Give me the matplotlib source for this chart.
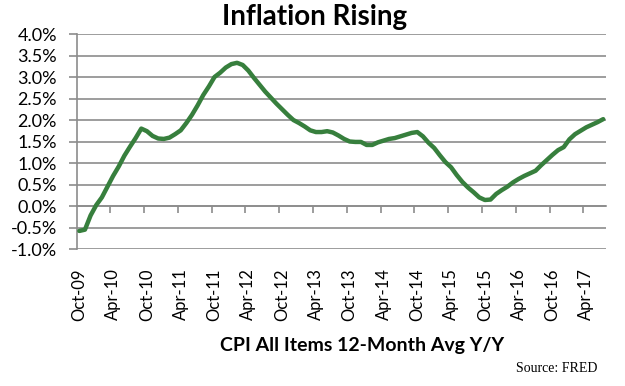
import matplotlib
matplotlib.use("Agg")
import numpy as np
import matplotlib.pyplot as plt
from matplotlib.ticker import FuncFormatter

# monthly CPI 12-month avg y/y, Oct-09 .. Jul-17
cpi = [-0.58, -0.55, -0.22, 0.02, 0.20, 0.45, 0.70, 0.92, 1.17, 1.38,
       1.58, 1.80, 1.74, 1.63, 1.57, 1.56, 1.59, 1.67, 1.76, 1.93,
       2.12, 2.34, 2.58, 2.78, 3.00, 3.10, 3.22, 3.30, 3.33, 3.28,
       3.15, 2.98, 2.82, 2.66, 2.52, 2.38, 2.25, 2.12, 2.00, 1.93,
       1.85, 1.76, 1.72, 1.72, 1.74, 1.71, 1.64, 1.56, 1.50, 1.49,
       1.49, 1.42, 1.42, 1.48, 1.52, 1.56, 1.58, 1.62, 1.66, 1.70,
       1.72, 1.62, 1.47, 1.35, 1.18, 1.02, 0.90, 0.72, 0.56, 0.43,
       0.32, 0.20, 0.14, 0.15, 0.28, 0.37, 0.45, 0.55, 0.63, 0.70,
       0.76, 0.82, 0.95, 1.07, 1.19, 1.30, 1.37, 1.55, 1.67, 1.75,
       1.83, 1.89, 1.95, 2.02]
tick_labels = ['Oct-09', 'Apr-10', 'Oct-10', 'Apr-11', 'Oct-11', 'Apr-12',
               'Oct-12', 'Apr-13', 'Oct-13', 'Apr-14', 'Oct-14', 'Apr-15',
               'Oct-15', 'Apr-16', 'Oct-16', 'Apr-17']

plt.rcParams['font.family'] = ['Lato', 'DejaVu Sans']
grid_col = '#8c8c8c'

fig = plt.figure(figsize=(6.25, 3.86), dpi=100)
ax = fig.add_axes([0.1224, 0.3549, 0.8472, 0.557])

x = np.arange(len(cpi))
ax.plot(x, cpi, color='#377f3d', lw=3.2, solid_capstyle='round', zorder=3)

ax.set_xlim(-0.5, len(cpi) - 0.5)
ax.set_ylim(-1.0, 4.0)
ax.set_yticks(np.arange(-1.0, 4.01, 0.5))
ax.yaxis.set_major_formatter(FuncFormatter(lambda v, p: f'{v:.1f}%'))
ax.grid(axis='y', color=grid_col, lw=1.2)
ax.set_axisbelow(True)

ax.set_xticks(np.arange(0, len(cpi), 6))
ax.set_xticklabels(tick_labels, rotation=90, fontsize=12)
ax.tick_params(axis='x', length=0, pad=14)
ax.tick_params(axis='y', length=6, color=grid_col, width=1.2, labelsize=13, pad=8)

for s in ['top', 'right', 'bottom']:
    ax.spines[s].set_visible(False)
ax.spines['left'].set_color(grid_col)
ax.spines['left'].set_linewidth(1.2)

# category axis crossing at 0 with tick marks between categories
sec = ax.secondary_xaxis(0.2)
sec.set_xticks(np.arange(5.5, len(cpi), 6))
sec.set_xticklabels([])
sec.spines['bottom'].set_color(grid_col)
sec.spines['bottom'].set_linewidth(1.2)
sec.tick_params(length=5, color=grid_col, width=1.2)

fig.text(0.504, 0.922, 'Inflation Rising', ha='center', va='bottom',
         fontsize=20, fontweight='bold')
fig.text(0.58, 0.09, 'CPI All Items 12-Month Avg Y/Y', ha='center',
         va='baseline', fontsize=14, fontweight='bold')
fig.text(0.955, 0.035, 'Source: FRED', ha='right', va='baseline',
         fontsize=10, family='Liberation Serif')

fig.savefig('out.png', dpi=100)
